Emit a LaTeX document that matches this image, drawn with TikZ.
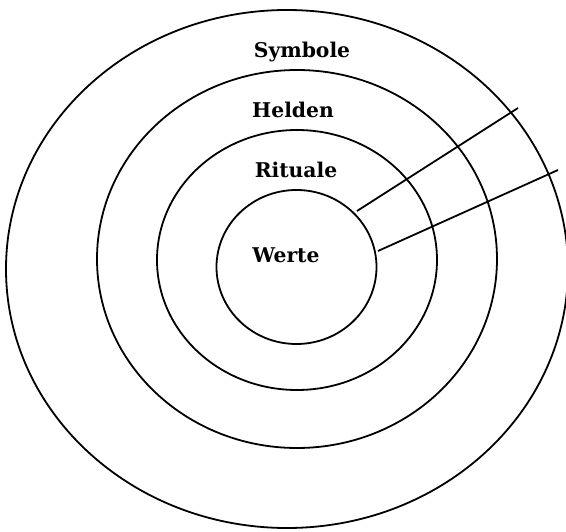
\documentclass[tikz,border=0pt]{standalone}
\usepackage{fontspec}
\setmainfont{DejaVu Serif}

\begin{document}
\begin{tikzpicture}[
      x=1pt, y=-1pt,
      ring/.style={draw, line width=1.8pt},
      layer/.style={font=\bfseries\fontsize{20.3}{23}\selectfont, anchor=base, inner sep=0pt},
      spoke/.style={line width=1.8pt}
    ]
    \useasboundingbox (0,0) rectangle (566,532);
    % the four layers, outside in
    \draw[ring] (287,269) ellipse [x radius=281pt, y radius=259pt];
    \draw[ring] (297,259) ellipse [x radius=200pt, y radius=189pt];
    \draw[ring] (297,260) ellipse [x radius=140pt, y radius=130pt];
    \draw[ring] (296.5,267) ellipse [x radius=80pt, y radius=77pt];
    \node[layer] (symbole) at (302,58) {Symbole};
    \node[layer] (helden) at (293,118) {Helden};
    \node[layer] (rituale) at (296,178) {Rituale};
    \node[layer] (werte) at (286,263) {Werte};
    % the two lines running out
    \coordinate (s1) at (357,211);
    \coordinate (e1) at (518,108);
    \coordinate (s2) at (378,251);
    \coordinate (e2) at (558,170);
    \draw[spoke] (s1) -- (e1);
    \draw[spoke] (s2) -- (e2);
\end{tikzpicture}
\end{document}
